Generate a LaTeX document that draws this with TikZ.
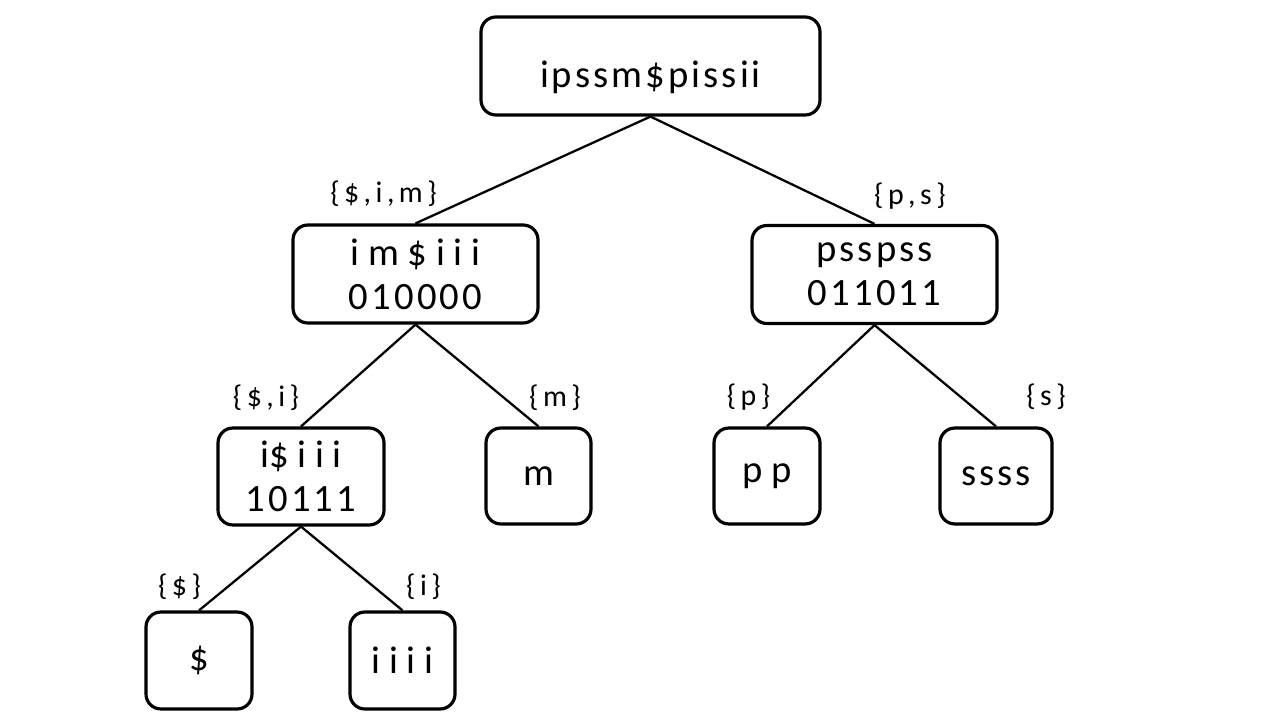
\documentclass[tikz,border=0pt]{standalone}
\usepackage{fontspec}
\setmainfont{Carlito}
\newfontfamily\spreadfont[LetterSpace=8]{Carlito}
\newfontfamily\labelfont[LetterSpace=15]{Carlito}

\begin{document}
\begin{tikzpicture}[-,auto,
  block/.style={draw=black, line width=1.8pt, rounded corners=8.5pt, rectangle, minimum height=1.96cm, align=center, font=\spreadfont\fontsize{22}{25}\selectfont},
  tag/.style={font=\labelfont\fontsize{17}{19}\selectfont},
  branch/.style={draw=black, line width=1.3pt}]
\useasboundingbox (0,0) rectangle (25.6,14.4);
\node[block, minimum width=6.78cm, text height=1.0cm, text depth=0.15cm] (root) at (13.01,13.08) {ipssm\$pissii};
\node[block, minimum width=4.9cm] (lft) at (8.31,8.92) {{\normalfont i m \$ i i i}\\010000};
\node[block, minimum width=4.9cm] (rgt) at (17.49,8.91) {psspss\\011011};
\node[block, minimum width=3.32cm, minimum height=1.94cm] (lft2) at (6.02,4.87) {{\normalfont i\$ i i i}\\10111};
\node[block, minimum width=2.1cm, minimum height=1.92cm] (m) at (10.77,4.88) {m};
\node[block, minimum width=2.12cm, minimum height=1.92cm] (p) at (15.34,4.88) {\normalfont p p};
\node[block, minimum width=2.24cm, minimum height=1.92cm] (s) at (19.92,4.88) {ssss};
\node[block, minimum width=2.12cm, minimum height=1.94cm] (dol) at (3.98,1.19) {\$};
\node[block, minimum width=2.1cm, minimum height=1.94cm] (i) at (8.05,1.19) {\normalfont i i i i};
% edge labels
\node[tag] (t1) at (7.67,10.53) {\{\$,i,m\}};
\node[tag] (t2) at (18.2,10.48) {\{p,s\}};
\node[tag] (t3) at (5.32,6.44) {\{\$,i\}};
\node[tag] (t4) at (11.10,6.44) {\{m\}};
\node[tag] (t5) at (14.97,6.45) {\{p\}};
\node[tag] (t6) at (20.92,6.46) {\{s\}};
\node[tag] (t7) at (3.59,2.66) {\{\$\}};
\node[tag] (t8) at (8.47,2.66) {\{i\}};
\draw[branch]   (root.south) -- (lft.north);
\draw[branch]   (root.south) -- (rgt.north);
\draw[branch]   (lft.south) -- (lft2.north);
\draw[branch]   (lft.south) -- (m.north);
\draw[branch]   (rgt.south) -- (p.north);
\draw[branch]   (rgt.south) -- (s.north);
\draw[branch]   (lft2.south) -- (dol.north);
\draw[branch]   (lft2.south) -- (i.north);
\end{tikzpicture}
\end{document}
